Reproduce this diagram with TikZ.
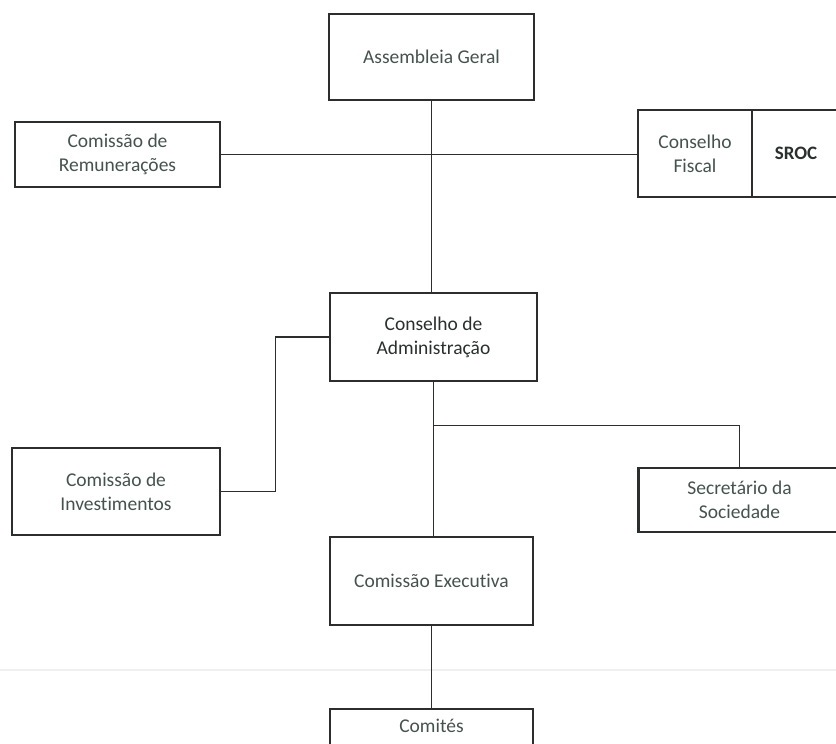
\documentclass[tikz,border=0pt]{standalone}
\usepackage{fontspec}
\setmainfont[Ligatures={NoCommon}]{Carlito}
\definecolor{txt}{HTML}{45534F}
\definecolor{txtdark}{HTML}{2A302E}
\definecolor{edge}{HTML}{2B2E2D}
\begin{document}
\begin{tikzpicture}[x=1pt,y=-1pt,
  box/.style={draw=edge,line width=2.4pt,fill=white,inner sep=0pt,align=center,
    font=\fontsize{19.5}{24}\selectfont,text=txt},
  link/.style={draw=edge,line width=1.3pt}]
\useasboundingbox (0,0) rectangle (836,744);
\clip (0,0) rectangle (836,744);
\fill[white] (0,0) rectangle (836,744);
\draw[gray!12,line width=1.2pt] (0,670) -- (836,670);
% nodes
\node[box,minimum width=205pt,minimum height=86pt] (ag) at (431.5,57) {Assembleia Geral};
\node[box,minimum width=205pt,minimum height=65pt] (rem) at (117.5,154.5) {Comissão de\\Remunerações};
\node[box,minimum width=114pt,minimum height=87pt] (cf) at (695,153.5) {Conselho\\Fiscal};
\node[box,minimum width=88pt,minimum height=87pt,text=txtdark,font=\fontsize{19}{24}\selectfont\bfseries] (sroc) at (796,153.5) {SROC};
\node[box,minimum width=207pt,minimum height=88pt,text=txtdark] (ca) at (433.5,337) {Conselho de\\Administração};
\node[box,minimum width=208pt,minimum height=87pt] (inv) at (116,491.5) {Comissão de\\Investimentos};
\node[box,minimum width=202pt,minimum height=64pt] (sec) at (739.5,500) {Secretário da\\Sociedade};
\node[box,minimum width=203pt,minimum height=88pt] (ce) at (431.5,581) {Comissão Executiva};
\node[box,minimum width=203pt,anchor=north,inner ysep=10pt,text height=13pt,text depth=30pt] (com) at (431.5,708) {Comités};
% connectors
\coordinate (jx) at (275.5,0);
\coordinate (by) at (0,425.5);
\draw[link] (ag.south) -- (ag.south |- ca.north);
\draw[link] (rem.east) -- (rem.east -| cf.west);
\draw[link] (ca.west) -| (jx |- inv.east) -- (inv.east);
\draw[link] (ca.south) -- (ca.south |- ce.north);
\draw[link] (ca.south |- by) -| (sec.north);
\draw[link] (ce.south) -- (ce.south |- com.north);
\end{tikzpicture}
\end{document}
